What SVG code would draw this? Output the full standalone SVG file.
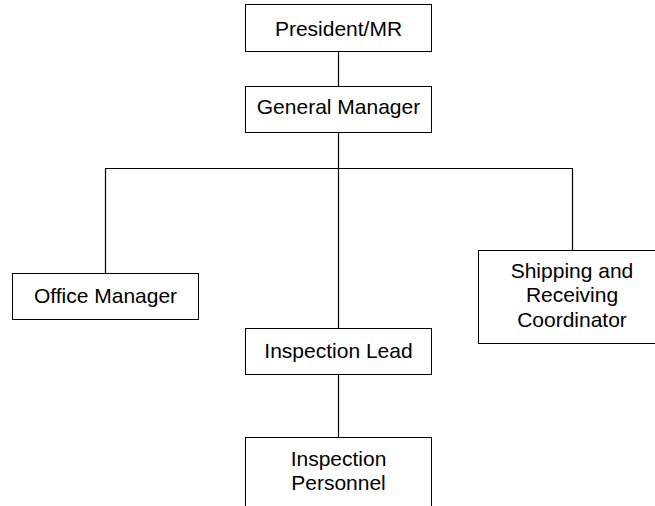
<svg xmlns="http://www.w3.org/2000/svg" width="655" height="506" viewBox="0 0 655 506">
<style>
.box{fill:#fff;stroke:#000;stroke-width:1}
.lbl{font-family:"Liberation Sans",Arial,sans-serif;font-size:21px;fill:#000;text-anchor:middle}
.conn{fill:none;stroke:#000;stroke-width:1.2}
</style>
<rect width="655" height="506" fill="#fff"/>
<g id="connectors">
<line class="conn" x1="338.5" y1="51.5" x2="338.5" y2="86"/>
<line class="conn" x1="338.5" y1="133" x2="338.5" y2="328"/>
<polyline class="conn" points="105.5,273 105.5,168.5 572.5,168.5 572.5,250"/>
<line class="conn" x1="338.5" y1="375" x2="338.5" y2="437"/>
</g>
<g id="president">
<rect class="box" x="245.5" y="4.5" width="186" height="47"/>
<text class="lbl" x="338.5" y="36">President/MR</text>
</g>
<g id="general-manager">
<rect class="box" x="245.5" y="86.5" width="186" height="46"/>
<text class="lbl" x="338.5" y="114">General Manager</text>
</g>
<g id="office-manager">
<rect class="box" x="12.5" y="273.5" width="186" height="46"/>
<text class="lbl" x="105.5" y="303">Office Manager</text>
</g>
<g id="shipping">
<rect class="box" x="478.5" y="250.5" width="188" height="93"/>
<text class="lbl" x="572" y="278">Shipping and</text>
<text class="lbl" x="572" y="302">Receiving</text>
<text class="lbl" x="572" y="327">Coordinator</text>
</g>
<g id="inspection-lead">
<rect class="box" x="245.5" y="328.5" width="186" height="46"/>
<text class="lbl" x="338.5" y="358">Inspection Lead</text>
</g>
<g id="inspection-personnel">
<rect class="box" x="245.5" y="437.5" width="186" height="93"/>
<text class="lbl" x="338.5" y="466">Inspection</text>
<text class="lbl" x="338.5" y="490">Personnel</text>
</g>
</svg>
